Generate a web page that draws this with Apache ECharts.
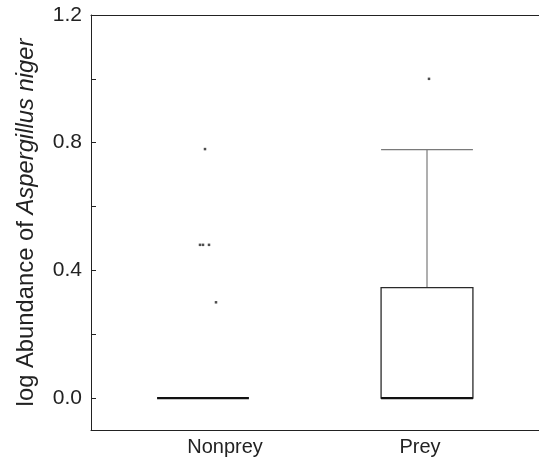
<!DOCTYPE html>
<html>
<head>
<meta charset="utf-8">
<script src="https://cdn.jsdelivr.net/npm/echarts@6/dist/echarts.min.js"></script>
<style>html,body{margin:0;padding:0;background:#fff;}#c{width:539px;height:460px;}</style>
</head>
<body>
<div id="c"></div>
<script>
// ---- data ----
const categories = ['Nonprey', 'Prey'];
// [min, Q1, median, Q3, max]
const nonpreyBox = [0, 0, 0, 0, 0];
const preyBox = [0, 0, 0, 0.346, 0.778];
const nonpreyOutliers = [0.78, 0.48, 0.48, 0.48, 0.30];
const preyOutliers = [1.0];
const yTickValues = [0, 0.2, 0.4, 0.6, 0.8, 1.0, 1.2];
const yLabelValues = [0, 0.4, 0.8, 1.2];

// ---- style only ----
const nonpreyJitter = [2, -3, 0, 6, 13];   // px horizontal jitter of dots
const preyJitter = [2];
const boxWidthFrac = 0.41;
const labelPadding = [[0, 0, 0, 44], [0, 14, 0, 0]]; // label nudges as in the original

const boxes = [nonpreyBox, preyBox];
const boxData = boxes.map((b, i) => [i].concat(b));

const outlierData = [];
nonpreyOutliers.forEach((v, i) => outlierData.push({ value: [0, v], symbolOffset: [nonpreyJitter[i], 0] }));
preyOutliers.forEach((v, i) => outlierData.push({ value: [1, v], symbolOffset: [preyJitter[i], 0] }));

const txt = '#222';
const font = 'Liberation Sans';

function renderBox(params, api) {
  const idx = api.value(0);
  const lo = api.coord([idx, api.value(1)]);
  const q1 = api.coord([idx, api.value(2)]);
  const med = api.coord([idx, api.value(3)]);
  const q3 = api.coord([idx, api.value(4)]);
  const hi = api.coord([idx, api.value(5)]);
  const bw = api.size([1, 0])[0] * boxWidthFrac;
  const cx = lo[0];
  const x0 = cx - bw / 2, x1 = cx + bw / 2;
  const children = [];
  const whisk = { stroke: '#7a7a7a', lineWidth: 1.2 };
  if (hi[1] < q3[1]) {
    children.push({ type: 'line', shape: { x1: cx, y1: q3[1], x2: cx, y2: hi[1] }, style: whisk });
    children.push({ type: 'line', shape: { x1: x0, y1: hi[1], x2: x1, y2: hi[1] }, style: whisk });
  }
  if (lo[1] > q1[1]) {
    children.push({ type: 'line', shape: { x1: cx, y1: q1[1], x2: cx, y2: lo[1] }, style: whisk });
    children.push({ type: 'line', shape: { x1: x0, y1: lo[1], x2: x1, y2: lo[1] }, style: whisk });
  }
  if (q1[1] - q3[1] > 0.5) {
    children.push({ type: 'rect', shape: { x: x0, y: q3[1], width: bw, height: q1[1] - q3[1] },
      style: { fill: '#fff', stroke: '#2a2a2a', lineWidth: 1.3 } });
  }
  children.push({ type: 'line', shape: { x1: x0, y1: med[1], x2: x1, y2: med[1] },
    style: { stroke: '#111', lineWidth: 2.4 } });
  return { type: 'group', children: children };
}

const rich = {};
categories.forEach((c, i) => {
  rich['c' + i] = { fontSize: 20, color: txt, fontFamily: font, padding: labelPadding[i] };
});

const chart = echarts.init(document.getElementById('c'));
chart.setOption({
  animation: false,
  backgroundColor: '#fff',
  grid: { left: 91, right: 0, top: 15, bottom: 30 },
  xAxis: [
    {
      type: 'category', data: categories, position: 'bottom',
      axisLine: { onZero: false, lineStyle: { color: '#222', width: 1 } },
      axisTick: { show: false },
      axisLabel: {
        color: txt, fontSize: 20, fontFamily: font, margin: 7,
        formatter: (v, i) => '{c' + i + '|' + v + '}', rich: rich
      },
      splitLine: { show: false }
    },
    {
      type: 'category', data: categories, position: 'top',
      axisLine: { onZero: false, lineStyle: { color: '#222', width: 1 } },
      axisTick: { show: false }, axisLabel: { show: false }, splitLine: { show: false }
    }
  ],
  yAxis: {
    type: 'value', min: -0.1, max: 1.2,
    name: '{n|log Abundance of }{i|Aspergillus niger}',
    nameLocation: 'middle', nameGap: 53, nameRotate: 90,
    nameTextStyle: {
      rich: {
        n: { fontSize: 23.8, color: txt, fontFamily: font },
        i: { fontSize: 23.8, color: txt, fontFamily: font, fontStyle: 'italic' }
      }
    },
    axisLine: { show: true, lineStyle: { color: '#222', width: 1 } },
    axisTick: { show: true, inside: true, length: 5, customValues: yTickValues, lineStyle: { color: '#222' } },
    axisLabel: { customValues: yLabelValues, formatter: v => v.toFixed(1), color: txt, fontSize: 21, fontFamily: font, margin: 9 },
    splitLine: { show: false }
  },
  series: [
    {
      type: 'custom', renderItem: renderBox, data: boxData,
      encode: { x: 0, y: [1, 2, 3, 4, 5] }, z: 3
    },
    {
      type: 'scatter', data: outlierData, symbol: 'rect', symbolSize: 2.5,
      itemStyle: { color: '#222' }, z: 5
    }
  ]
});
</script>
</body>
</html>
